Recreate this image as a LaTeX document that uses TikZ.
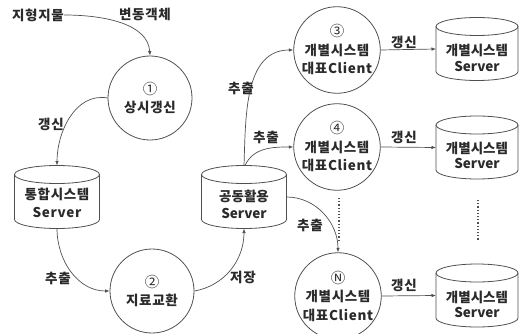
\documentclass[tikz,border=0pt]{standalone}
\usepackage{fontspec}
\setmainfont{Noto Sans CJK KR}
\usetikzlibrary{arrows.meta}
\definecolor{ink}{HTML}{2A2A2A}
\definecolor{edge}{HTML}{505050}
\newcommand\cnum[1]{{\fontsize{14.5}{14.5}\selectfont\mdseries #1}}
\tikzset{
  base/.style={font=\fontsize{13.5}{18.5}\selectfont\bfseries\addfontfeatures{LetterSpace=5}, text=ink},
  proc/.style={base, circle, draw=edge, line width=0.8pt, minimum size=84pt, inner sep=0pt, align=center},
  cylbox/.style={minimum width=#1, minimum height=63pt, inner sep=0pt, outer sep=0pt},
  cyltext/.style={base, align=center, inner sep=0pt},
  lbl/.style={base, inner sep=0pt},
  link/.style={draw=edge, line width=0.7pt, -{Latex[length=4.5pt,width=3.5pt]}},
  dotline/.style={draw=edge, line width=1.2pt, dotted}
}
\newcommand\drawcyl[2]{%
  \draw[edge, line width=0.8pt] ([yshift=-9pt]#1.north) ellipse [x radius=#2, y radius=9pt];
  \draw[edge, line width=0.8pt] ([yshift=-9pt]#1.north west) -- ([yshift=9pt]#1.south west)
    arc[start angle=180, end angle=360, x radius=#2, y radius=9pt] -- ([yshift=-9pt]#1.north east);}
\begin{document}
\begin{tikzpicture}[x=1pt, y=-1pt]
\useasboundingbox (0,0) rectangle (519,334);
% texts at top
\node[lbl] (jh) at (38,15) {지형지물};
\node[lbl] (bd) at (145,14) {변동객체};
% circles
\node[proc] (c1) at (150,98) {\cnum{①}\\상시갱신};
\node[proc] (c2) at (152,291) {\cnum{②}\\지료교환};
\node[proc] (c3) at (337,50) {\cnum{③}\\개별시스템\\대표Client};
\node[proc] (c4) at (337,147) {\cnum{④}\\개별시스템\\대표Client};
\node[proc] (cN) at (338,296) {\cnum{Ⓝ}\\개별시스템\\대표Client};
% cylinders
\node[cylbox=85pt] (tong) at (57,197) {};
\drawcyl{tong}{42.5pt}
\node[cyltext] (tongt) at ([yshift=-6pt]tong.center) {통합시스템\\Server};
\node[cylbox=85pt] (gong) at (244,197) {};
\drawcyl{gong}{42.5pt}
\node[cyltext, font=\fontsize{13.5}{17}\selectfont\bfseries] (gongt) at ([yshift=-7pt]gong.center) {공동활용\\Server};
\node[cylbox=82pt] (s1) at (477,49) {};
\drawcyl{s1}{41pt}
\node[cyltext, font=\fontsize{13.5}{15.5}\selectfont\bfseries] (s1t) at ([yshift=-9pt]s1.center) {개별시스템\\Server};
\node[cylbox=82pt] (s2) at (477,147.5) {};
\drawcyl{s2}{41pt}
\node[cyltext, font=\fontsize{13.5}{15.5}\selectfont\bfseries] (s2t) at ([yshift=-8pt]s2.center) {개별시스템\\Server};
\node[cylbox=82pt] (s3) at (477,295.5) {};
\drawcyl{s3}{41pt}
\node[cyltext, font=\fontsize{13.5}{15.5}\selectfont\bfseries] (s3t) at ([yshift=-9pt]s3.center) {개별시스템\\Server};
% connectors
\draw[link] (jh.east) .. controls (105,15) and (148,24) .. (c1.north);
\draw[link] (c1.west) to[out=170,in=90] (tong.north);
\draw[link] (tong.south) to[out=-90,in=180] (c2.west);
\draw[link] (c2.east) to[out=10,in=-90] (gong.south);
\draw[link] (gong.north) to[out=88,in=180] (c3.west);
\draw[link] ([xshift=1pt]gong.north) to[out=65,in=180] (c4.west);
\draw[link] (gong.east) to[out=0,in=90] (cN.north);
\draw[link] (c3.east) -- (s1.west);
\draw[link] (c4.east) -- (s2.west);
\draw[link] (cN.east) -- (s3.west);
% labels
\node[lbl] (l1) at (51,124) {갱신};
\node[lbl] (l2) at (58,278) {추출};
\node[lbl] (l3) at (243,277) {저장};
\node[lbl] (l4) at (241,88) {추출};
\node[lbl] (l5) at (266,137) {추출};
\node[lbl] (l6) at (310,225) {추출};
\node[lbl] (l7) at (404,42) {갱신};
\node[lbl] (l8) at (404,137) {갱신};
\node[lbl] (l9) at (404,285) {갱신};
% continuation dots
\draw[dotline] (339,198) -- (339,240);
\draw[dotline] (478,200) -- (478,240);
\end{tikzpicture}
\end{document}
